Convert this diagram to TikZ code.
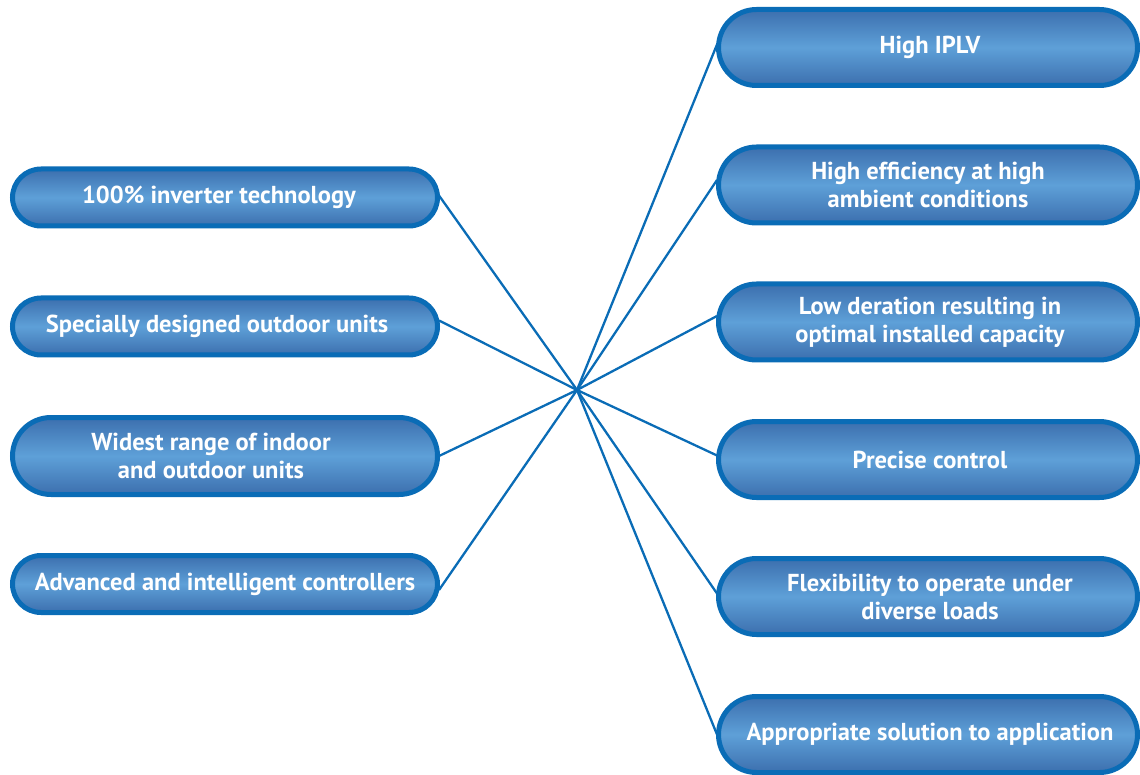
\documentclass[tikz,border=0pt]{standalone}
\usepackage{fontspec}
\setmainfont{PT Sans}
\definecolor{bord}{HTML}{0A6CB6}
\definecolor{shdark}{HTML}{3C6FAE}
\definecolor{shlight}{HTML}{5EA0D8}
\newcommand\movetxt[2]{\hspace*{#1}#2\hspace*{-#1}}
\begin{document}
\begin{tikzpicture}[x=1pt,y=-1pt,
  pill/.style={draw=bord, line width=5pt, top color=shdark, bottom color=shdark, middle color=shlight,
    text=white, font=\fontsize{24.5}{28}\selectfont\bfseries, align=center, inner sep=0pt},
  lpill/.style={pill, minimum width=425pt, minimum height=57pt, rounded corners=28.5pt},
  lpilltwo/.style={pill, minimum width=425pt, minimum height=77pt, rounded corners=38.5pt},
  rpill/.style={pill, minimum width=419pt, minimum height=76pt, rounded corners=38pt},
  conn/.style={draw=bord, line width=2.3pt}]
\useasboundingbox (0,0) rectangle (1140,775);
\coordinate (c) at (577,390);
\node[lpill] (l1) at (225,197.5) {\movetxt{-6pt}{100\% inverter technology}};
\node[lpill] (l2) at (225,326.5) {\movetxt{-8pt}{Specially designed outdoor units}};
\node[lpilltwo] (l3) at (225,456) {\movetxt{-14pt}{Widest range of indoor}\\\movetxt{-14pt}{and outdoor units}};
\node[lpill] (l4) at (225,584) {Advanced and intelligent controllers};
\node[rpill] (r1) at (928,47.5) {\movetxt{2pt}{High IPLV}};
\node[rpill] (r2) at (928,185) {High efficiency at high\\ambient conditions};
\node[rpill] (r3) at (928,322) {\movetxt{2pt}{Low deration resulting in}\\\movetxt{2pt}{optimal installed capacity}};
\node[rpill] (r4) at (928,459.5) {\movetxt{2pt}{Precise control}};
\node[rpill] (r5) at (928,596.5) {\movetxt{2pt}{Flexibility to operate under}\\\movetxt{2pt}{diverse loads}};
\node[rpill] (r6) at (928,734.5) {\movetxt{2pt}{Appropriate solution to application}};
\draw[conn] (c) -- ([xshift=-1pt,yshift=2pt]l1.east);
\draw[conn] (c) -- ([xshift=-1pt,yshift=6pt]l2.east);
\draw[conn] (c) -- ([xshift=-1pt]l3.east);
\draw[conn] (c) -- ([xshift=-1pt,yshift=-6pt]l4.east);
\draw[conn] (c) -- ([xshift=1pt,yshift=3pt]r1.west);
\draw[conn] (c) -- ([xshift=1pt,yshift=5pt]r2.west);
\draw[conn] (c) -- ([xshift=1pt,yshift=6pt]r3.west);
\draw[conn] (c) -- ([xshift=1pt,yshift=4pt]r4.west);
\draw[conn] (c) -- ([xshift=1pt,yshift=3pt]r5.west);
\draw[conn] (c) -- ([xshift=1pt]r6.west);
\end{tikzpicture}
\end{document}
